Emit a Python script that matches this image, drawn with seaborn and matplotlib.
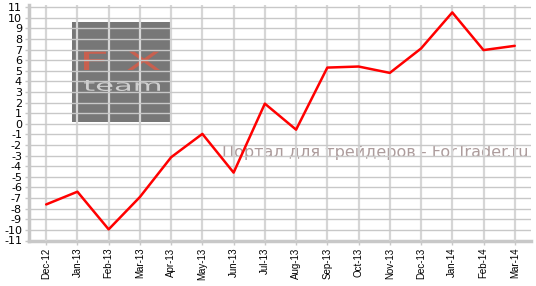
import matplotlib
matplotlib.use("Agg")
import matplotlib.pyplot as plt
import seaborn as sns
import pandas as pd
from matplotlib.patches import Rectangle, PathPatch
from matplotlib.textpath import TextPath
from matplotlib.font_manager import FontProperties
from matplotlib.transforms import Affine2D

months = ["Dec-12", "Jan-13", "Feb-13", "Mar-13", "Apr-13", "May-13", "Jun-13", "Jul-13",
          "Aug-13", "Sep-13", "Oct-13", "Nov-13", "Dec-13", "Jan-14", "Feb-14", "Mar-14"]
values = [-7.6, -6.4, -9.95, -6.9, -3.15, -0.95, -4.6, 1.9,
          -0.55, 5.3, 5.4, 4.8, 7.1, 10.5, 6.95, 7.35]
y_ticks = list(range(-11, 12))

sns.set_theme(style="white")
plt.rcParams['font.family'] = ['DejaVu Sans']

df = pd.DataFrame({"pos": range(len(months)), "value": values})

W, H = 536, 286
fig = plt.figure(figsize=(W / 100, H / 100), dpi=100)
ax = fig.add_axes([29 / W, 1 - 240.5 / H, (531 - 29) / W, (240.5 - 5) / H])


def fig_box_text(s, x0, y0, x1, y1, color, weight="normal"):
    """Place text stretched into a pixel box (top-left origin) in figure coords."""
    tp = TextPath((0, 0), s, size=1, prop=FontProperties(family="DejaVu Sans", weight=weight))
    ext = tp.get_extents()
    sx = ((x1 - x0) / W) / ext.width
    sy = ((y1 - y0) / H) / ext.height
    tr = Affine2D().translate(-ext.x0, -ext.y0).scale(sx, sy).translate(x0 / W, 1 - y1 / H)
    patch = PathPatch(tr.transform_path(tp), transform=fig.transFigure,
                      facecolor=color, edgecolor="none", zorder=0.5)
    ax.add_artist(patch)
    patch.set_clip_on(False)


rect = Rectangle((72 / W, 1 - 122.3 / H), (170.7 - 72) / W, (122.3 - 21.7) / H,
                 transform=fig.transFigure, facecolor="#777777", edgecolor="none", zorder=0)
ax.add_artist(rect)
fig_box_text("F X", 84, 51.7, 160, 70, "#c8604f", weight="normal")
fig_box_text("team", 84, 80, 160, 91, "#cfcfcf", weight="normal")

sns.lineplot(data=df, x="pos", y="value", color="#ff0000", linewidth=1.8, ax=ax, zorder=3)

ax.set_xlim(-0.55, len(months) - 1 + 0.52)
ax.set_ylim(-11, 11.2)
ax.set_xticks(range(len(months)))
ax.set_xticklabels(months, rotation=90, fontsize=7, fontfamily="Liberation Sans")
ax.set_yticks(y_ticks)
ax.set_yticklabels([str(v) for v in y_ticks], fontsize=8, fontfamily="DejaVu Sans")
ax.set_xlabel("")
ax.set_ylabel("")

ax.set_axisbelow(False)
ax.grid(True, axis="y", color="#c8c8c8", linewidth=1.0)
ax.grid(True, axis="x", color="#d6d6d6", linewidth=1.6)
for gl in ax.get_xgridlines() + ax.get_ygridlines():
    gl.set_zorder(1)

for s in ["top", "right"]:
    ax.spines[s].set_visible(False)
for s in ["left", "bottom"]:
    ax.spines[s].set_color("#c8c8c8")
    ax.spines[s].set_linewidth(2.5)

ax.tick_params(axis="both", which="both", length=3, width=1, color="#c8c8c8",
               pad=2, labelcolor="#000000", left=True, bottom=True)

ax.text(0.995, (240.5 - 153) / (240.5 - 5), "Портал для трейдеров - ForTrader.ru",
        transform=ax.transAxes, ha="right", va="center", color="#ad9c9c",
        fontsize=11.5, fontfamily="DejaVu Sans", zorder=0.8)

fig.savefig("out.png", dpi=100)
